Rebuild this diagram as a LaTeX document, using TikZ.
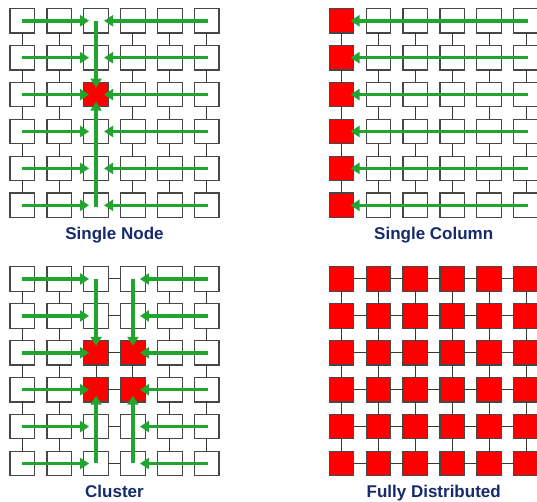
\documentclass[tikz,border=0pt]{standalone}
\usepackage{fontspec}
\setmainfont{Liberation Sans}
\usetikzlibrary{arrows.meta}
\definecolor{flowgreen}{RGB}{34,165,48}
\definecolor{titleblue}{RGB}{22,42,110}
\definecolor{hotred}{RGB}{255,0,0}
\begin{document}
\begin{tikzpicture}[x=1pt,y=1pt,
  cell/.style={draw=black!72, line width=1.2pt, minimum size=24.5pt, inner sep=0pt, outer sep=0pt},
  link/.style={draw=black!78, line width=1pt},
  flow/.style={draw=flowgreen, line width=3.5pt, -{Triangle[width=11pt,length=9pt]}},
  paneltitle/.style={text=titleblue, font=\fontsize{17}{20}\selectfont\bfseries, anchor=base, inner sep=0pt}]
\clip (0,0) rectangle (537,502);
\fill[white] (0,0) rectangle (537,502);

% ---- cells ----
\foreach \p/\ox/\oy in {A/22.25/481.2, B/341.5/481.2, C/22.25/223, D/341.5/223} {
  \foreach \i in {0,...,5} {
    \foreach \j in {0,...,5} {
      \def\fc{white}
      \if A\p \pgfmathtruncatemacro\r{and(\i==2,\j==2)}\ifnum\r=1 \def\fc{hotred}\fi\fi
      \if B\p \ifnum\i=0 \def\fc{hotred}\fi\fi
      \if C\p \pgfmathtruncatemacro\r{and(or(\i==2,\i==3),or(\j==2,\j==3))}\ifnum\r=1 \def\fc{hotred}\fi\fi
      \if D\p \def\fc{hotred}\fi
      \node[cell, fill=\fc] (\p-\i-\j) at (\ox+36.9*\i, \oy-36.9*\j) {};
    }
  }
}

% ---- mesh links ----
\foreach \p in {A,B,C,D} {
  \foreach \i in {0,...,4} {
    \foreach \j in {0,...,5} {
      \pgfmathtruncatemacro\n{\i+1}
      \draw[link] (\p-\i-\j) -- (\p-\n-\j);
      \draw[link] (\p-\j-\i) -- (\p-\j-\n);
    }
  }
}

% ---- Single Node flows ----
\foreach \j in {0,...,5} {
  \draw[flow] (A-0-\j.center) -- ([xshift=-7pt]A-2-\j.center);
  \draw[flow] ([xshift=1.5pt]A-5-\j.center) -- ([xshift=8pt]A-2-\j.center);
}
\draw[flow] (A-2-0.center) -- ([yshift=7pt]A-2-2.center);
\draw[flow] ([yshift=-2pt]A-2-5.center) -- ([yshift=-7pt]A-2-2.center);

% ---- Single Column flows ----
\foreach \j in {0,...,5} {
  \draw[flow] ([xshift=1.5pt]B-5-\j.center) -- ([xshift=9pt]B-0-\j.center);
}

% ---- Cluster flows ----
\foreach \j in {0,...,5} {
  \draw[flow] (C-0-\j.center) -- ([xshift=-7pt]C-2-\j.center);
  \draw[flow] ([xshift=1.5pt]C-5-\j.center) -- ([xshift=7pt]C-3-\j.center);
}
\foreach \i in {2,3} {
  \draw[flow] (C-\i-0.center) -- ([yshift=7pt]C-\i-2.center);
  \draw[flow] (C-\i-5.center) -- ([yshift=-6pt]C-\i-3.center);
}

% ---- titles ----
\node[paneltitle] (tA) at (114.5,262) {Single Node};
\node[paneltitle] (tB) at (433.7,262) {Single Column};
\node[paneltitle] (tC) at (114.5,4.5) {Cluster};
\node[paneltitle] (tD) at (433.7,4.5) {Fully Distributed};
\end{tikzpicture}
\end{document}
